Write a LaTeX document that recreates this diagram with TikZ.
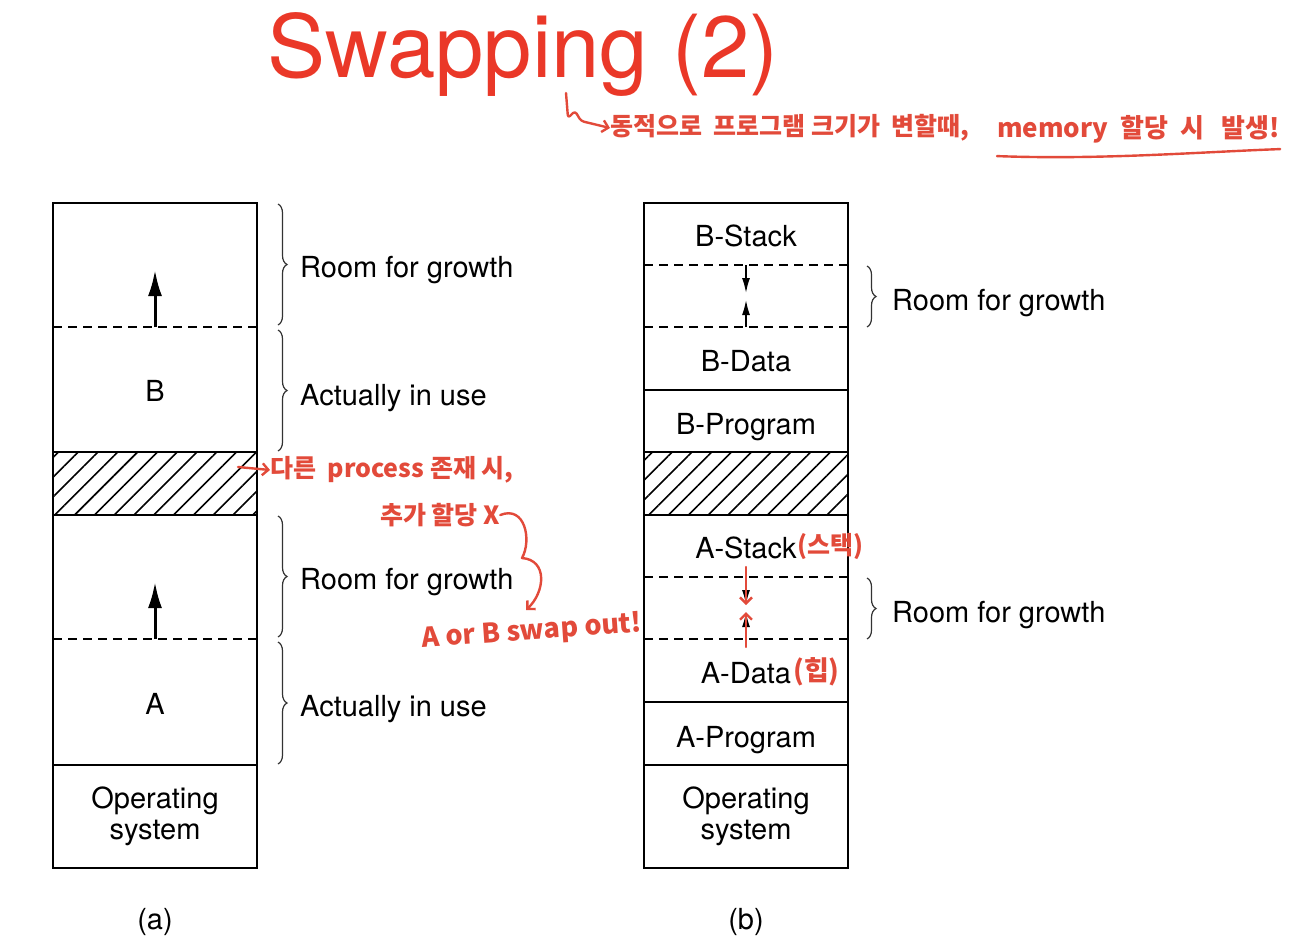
\documentclass[tikz,border=0pt]{standalone}
\usepackage{fontspec}
\setmainfont{TeX Gyre Heros}
\newfontfamily\hand{Noto Sans CJK KR}
\usetikzlibrary{arrows.meta,patterns.meta,decorations.pathreplacing}
\definecolor{titlered}{RGB}{234,56,40}
\definecolor{pen}{RGB}{226,74,58}
\tikzset{
  box/.style={line width=2.6pt},
  part/.style={line width=1.6pt, dash pattern=on 9pt off 6pt},
  hatch/.style={pattern={Lines[angle=45,distance=14pt,line width=1.6pt]}},
  lbl/.style={font=\fontsize{29}{33}\selectfont, anchor=base, inner sep=0pt},
  side/.style={font=\fontsize{29}{33}\selectfont, anchor=base west, inner sep=0pt},
  room/.style={decorate, decoration={brace, amplitude=9pt}, line width=1.2pt, draw=black!80},
  growarrow/.style={line width=3pt, -{Latex[length=26pt,width=14pt]}},
  meet/.style={line width=1.6pt, -{Latex[length=15pt,width=8pt]}},
  note/.style={text=pen, font=\hand\bfseries\fontsize{25}{29}\selectfont, anchor=west, inner sep=0pt},
  ink/.style={draw=pen, line width=2.4pt, line cap=round, line join=round},
  inktip/.style={ink, -{Straight Barb[length=6pt,width=12pt]}},
}
\begin{document}
\begin{tikzpicture}[x=1pt,y=-1pt]
\useasboundingbox (0,0) rectangle (1298,946);

\node[font=\fontsize{87}{90}\selectfont, text=titlered, anchor=base, inner sep=0pt] (title) at (523,77) {Swapping (2)};

% (a)
\fill[hatch] (53,452) rectangle (257,515);
\draw[box] (53,203) rectangle (257,868);
\draw[box] (53,452) -- (257,452);
\draw[box] (53,515) -- (257,515);
\draw[box] (53,765) -- (257,765);
\draw[part] (53,327) -- (257,327);
\draw[part] (53,639) -- (257,639);

\node[lbl] (procb) at (155,401) {B};
\node[lbl] (proca) at (155,714) {A};
\node[lbl, anchor=center, align=center] (osa) at (155,816) {Operating\\[-2pt]system};
\node[lbl] (capa) at (155,929) {(a)};

\coordinate (bgrow) at (155,327);
\coordinate (bgrowtip) at (155,270);
\coordinate (agrow) at (155,639);
\coordinate (agrowtip) at (155,582);
\draw[growarrow] (bgrow) -- (bgrowtip);
\draw[growarrow] (agrow) -- (agrowtip);

\coordinate (ra1) at (278,204);
\coordinate (ra2) at (278,325);
\coordinate (ra3) at (278,330);
\coordinate (ra4) at (278,451);
\coordinate (ra5) at (278,516);
\coordinate (ra6) at (278,637);
\coordinate (ra7) at (278,642);
\coordinate (ra8) at (278,764);
\draw[room] (ra1) -- (ra2);
\draw[room] (ra3) -- (ra4);
\draw[room] (ra5) -- (ra6);
\draw[room] (ra7) -- (ra8);
\node[side] (roomb) at (300,277) {Room for growth};
\node[side] (useb) at (300,405) {Actually in use};
\node[side] (rooma) at (300,589) {Room for growth};
\node[side] (usea) at (300,716) {Actually in use};

% (b)
\fill[hatch] (644,452) rectangle (848,515);
\draw[box] (644,203) rectangle (848,868);
\draw[box] (644,390) -- (848,390);
\draw[box] (644,452) -- (848,452);
\draw[box] (644,515) -- (848,515);
\draw[box] (644,702) -- (848,702);
\draw[box] (644,765) -- (848,765);
\draw[part] (644,265) -- (848,265);
\draw[part] (644,327) -- (848,327);
\draw[part] (644,577) -- (848,577);
\draw[part] (644,639) -- (848,639);

\node[lbl] (bstack) at (746,246) {B-Stack};
\node[lbl] (bdata) at (746,371) {B-Data};
\node[lbl] (bprog) at (746,434) {B-Program};
\node[lbl] (astack) at (746,558) {A-Stack};
\node[lbl] (adata) at (746,683) {A-Data};
\node[lbl] (aprog) at (746,747) {A-Program};
\node[lbl, anchor=center, align=center] (osb) at (746,816) {Operating\\[-2pt]system};
\node[lbl] (capb) at (746,929) {(b)};

\coordinate (bs1) at (746,265);
\coordinate (bs2) at (746,293);
\coordinate (bd1) at (746,327);
\coordinate (bd2) at (746,300);
\coordinate (as1) at (746,577);
\coordinate (as2) at (746,605);
\coordinate (ad1) at (746,639);
\coordinate (ad2) at (746,612);
\draw[meet] (bs1) -- (bs2);
\draw[meet] (bd1) -- (bd2);
\draw[meet] (as1) -- (as2);
\draw[meet] (ad1) -- (ad2);

\coordinate (rb1) at (867,266);
\coordinate (rb2) at (867,327);
\coordinate (rb3) at (867,578);
\coordinate (rb4) at (867,639);
\draw[room] (rb1) -- (rb2);
\draw[room] (rb3) -- (rb4);
\node[side] (roomtop) at (892,310) {Room for growth};
\node[side] (roombot) at (892,622) {Room for growth};

% notes
\node[note] (why) at (610,128) {동적으로 \ 프로그램 크기가 \ 변할때,};
\node[note, font=\hand\bfseries\fontsize{26}{30}\selectfont] (when) at (997,129) {memory \ 할당 \ 시 \ \ 발생!};
\coordinate (hook) at (566,93);
\draw[inktip, rounded corners=3pt] (hook) -- (568,118) -- (575,111) -- (581,121) -- (why.west);
\path (when.south west) ++(0,13) coordinate (ul1) (when.south east) ++(0,6) coordinate (ul2);
\draw[ink] (ul1) .. controls (1100,160) and (1200,152) .. (ul2);

\coordinate (hatchpt) at (238,467);
\node[note] (other) at (270,470) {다른 \ process 존재 시,};
\draw[inktip] (hatchpt) -- (other.west);
\node[note] (nomore) at (380,515) {추가 할당 X};
\coordinate (swaptip) at (526,610);
\draw[inktip] (nomore.east) .. controls (525,505) and (532,540) .. (522,558)
  .. controls (548,560) and (545,592) .. (swaptip);
\node[note, anchor=center, rotate=4, font=\hand\bfseries\fontsize{27}{31}\selectfont] (swap) at (532,632) {A or B swap out!};

\node[note, font=\hand\bfseries\fontsize{25}{29}\selectfont] (stack) at (797,547) {(스택)};
\node[note, font=\hand\bfseries\fontsize{27}{31}\selectfont] (heap) at (793,672) {(힙)};
\draw[inktip] (746,567) -- (as2);
\draw[inktip] (746,647) -- (ad2);
\end{tikzpicture}
\end{document}
